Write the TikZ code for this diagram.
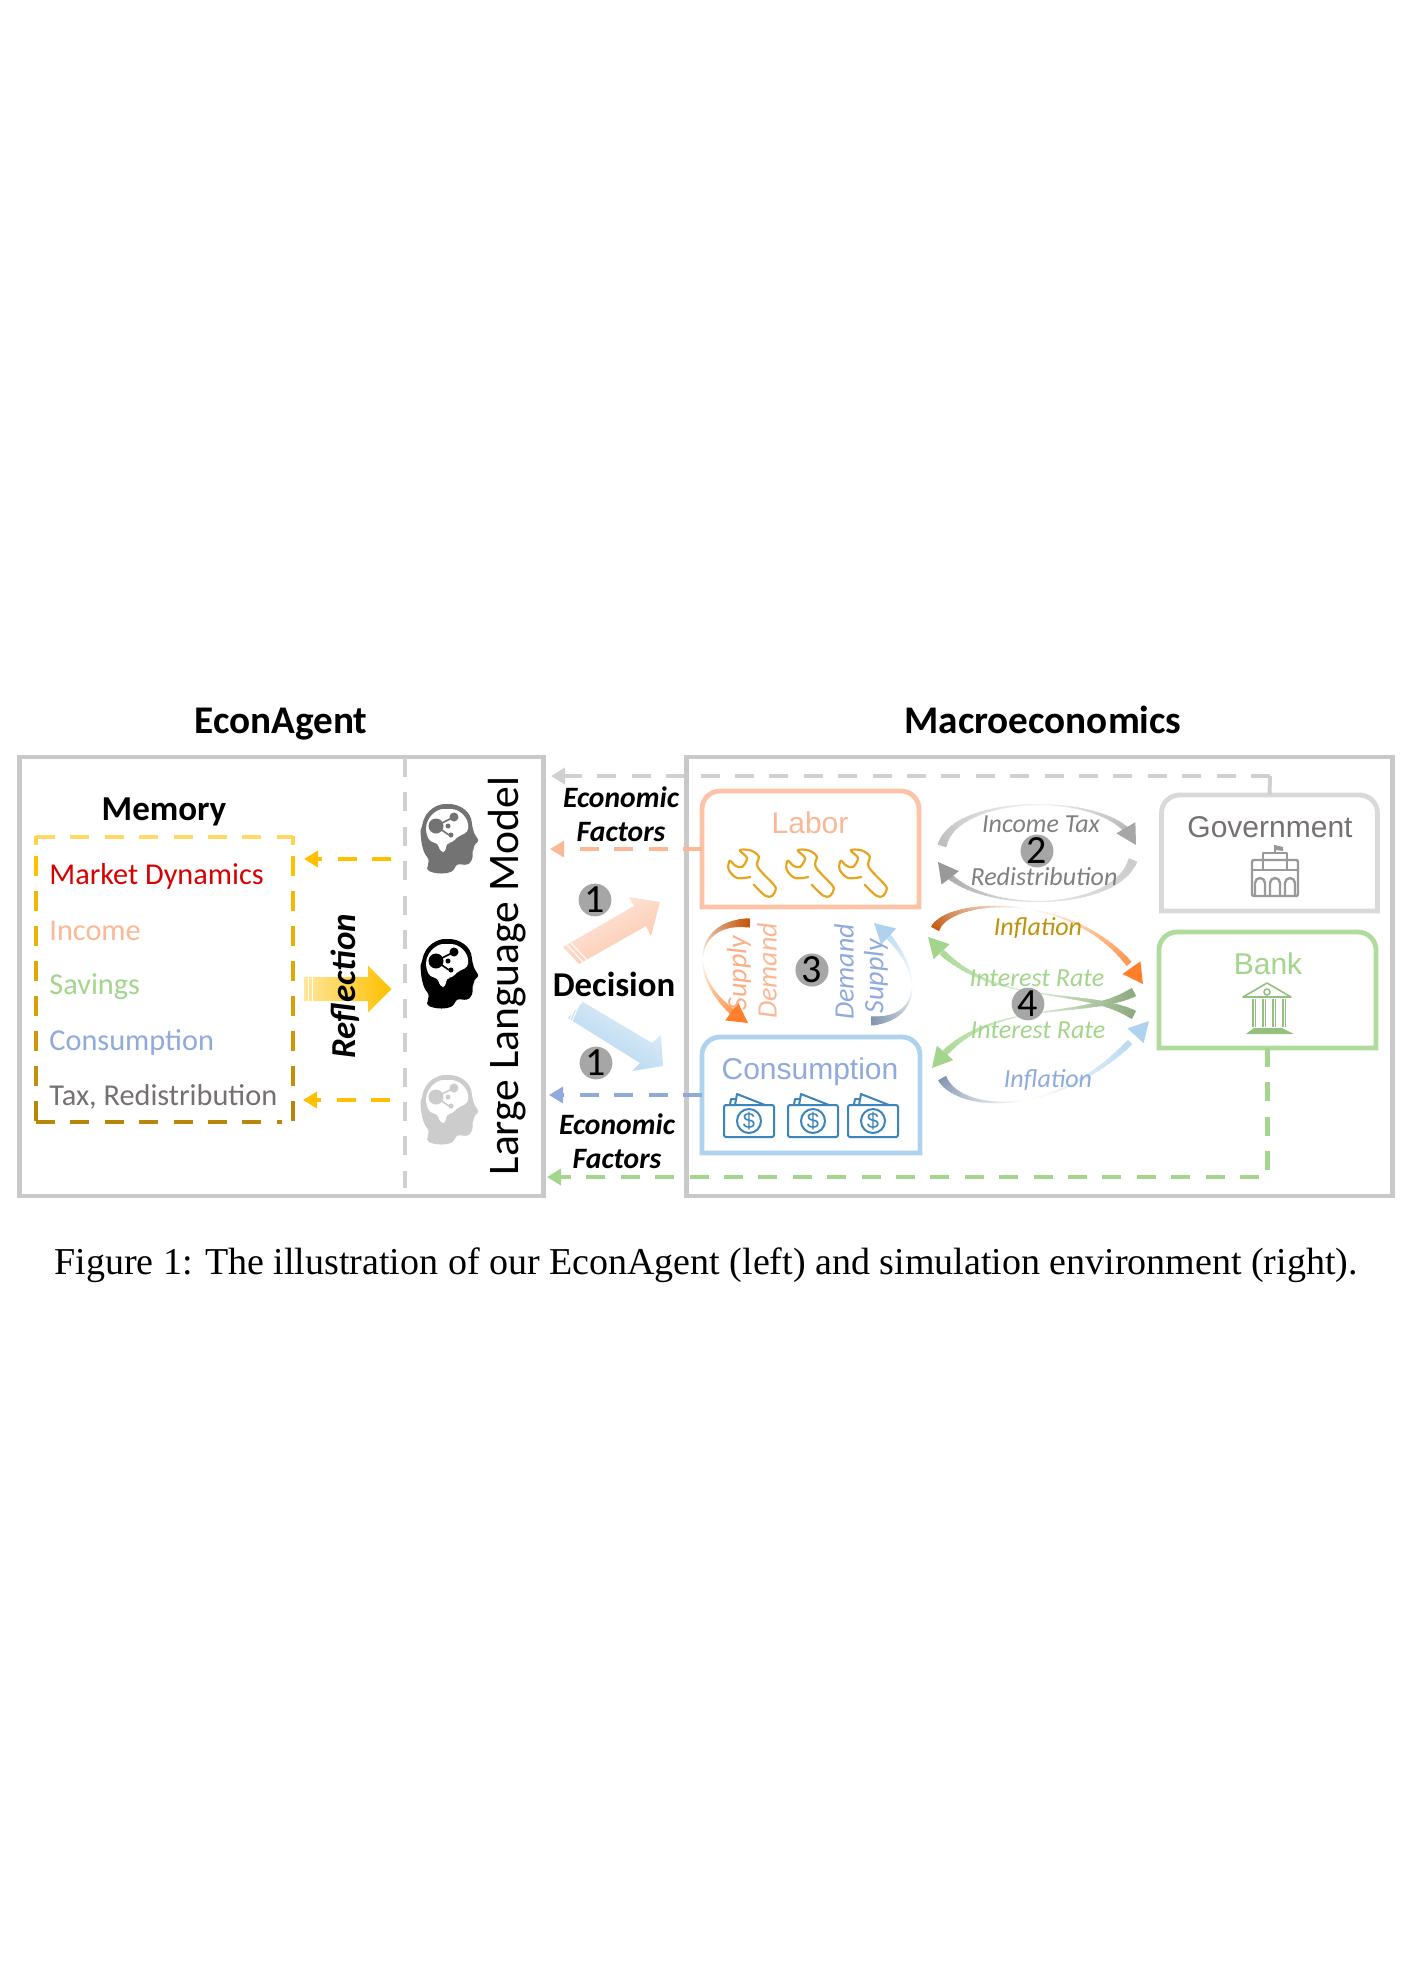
\documentclass[tikz,border=0pt]{standalone}
\usepackage{fontspec}
\usetikzlibrary{arrows.meta,calc}
\newfontfamily\carlito{Carlito}
\newfontfamily\lsans{Liberation Sans}
\newfontfamily\lserif{Liberation Serif}
\newcommand{\fs}[1]{\fontsize{#1}{#1}\selectfont}
\definecolor{framegray}{HTML}{C9C9C9}
\definecolor{dashgray}{HTML}{D0D0D0}
\definecolor{lorange}{HTML}{FBB896}
\definecolor{dorange}{HTML}{C55A11}
\definecolor{vorange}{HTML}{FF7F2A}
\definecolor{lblue}{HTML}{AFD3EE}
\definecolor{tblue}{HTML}{8FAADC}
\definecolor{dblue}{HTML}{8497B0}
\definecolor{lgreen}{HTML}{A3D58C}
\definecolor{dgreen}{HTML}{8FAA80}
\definecolor{ygold}{HTML}{FFC000}
\definecolor{dgold}{HTML}{B8860B}
\definecolor{txtgray}{HTML}{767171}
\definecolor{wrenchc}{HTML}{E6A520}
\definecolor{moneyc}{HTML}{3C85BB}
% gradient curve: points, start colour, middle colour, end colour, head (1) or not (0)
\newcommand{\gcurve}[5]{\colorlet{gAc}{#2}\colorlet{gMc}{#3}\colorlet{gBc}{#4}\def\gH{#5}\gparse#1;}
\def\gparse#1,#2,#3,#4,#5,#6,#7,#8;{%
  \foreach \i in {0,...,47}{%
    \pgfmathsetmacro\ta{\i/48}%
    \pgfmathsetmacro\tb{min(1,(\i+1.3)/48)}%
    \pgfmathsetmacro\xa{(1-\ta)^3*#1+3*(1-\ta)^2*\ta*#3+3*(1-\ta)*\ta^2*#5+\ta^3*#7}%
    \pgfmathsetmacro\ya{(1-\ta)^3*#2+3*(1-\ta)^2*\ta*#4+3*(1-\ta)*\ta^2*#6+\ta^3*#8}%
    \pgfmathsetmacro\xb{(1-\tb)^3*#1+3*(1-\tb)^2*\tb*#3+3*(1-\tb)*\tb^2*#5+\tb^3*#7}%
    \pgfmathsetmacro\yb{(1-\tb)^3*#2+3*(1-\tb)^2*\tb*#4+3*(1-\tb)*\tb^2*#6+\tb^3*#8}%
    \pgfmathsetmacro\lw{0.5+4*abs(2*\ta-1)^1.8}%
    \ifnum\i<24
      \pgfmathtruncatemacro\p{100*\i/24}%
      \colorlet{gc}{gMc!\p!gAc}%
    \else
      \pgfmathtruncatemacro\p{100*(\i-24)/24}%
      \colorlet{gc}{gBc!\p!gMc}%
    \fi
    \pgfmathtruncatemacro\skipit{(\gH==1)&&(\i>43)}%
    \ifnum\skipit=0
      \draw[line width=\lw pt,color=gc] (\xa,\ya) -- (\xb,\yb);
    \fi
  }%
  \ifnum\gH=1
    \pgfmathsetmacro\ttv{0.91}%
    \pgfmathsetmacro\xc{(1-\ttv)^3*#1+3*(1-\ttv)^2*\ttv*#3+3*(1-\ttv)*\ttv^2*#5+\ttv^3*#7}%
    \pgfmathsetmacro\yc{(1-\ttv)^3*#2+3*(1-\ttv)^2*\ttv*#4+3*(1-\ttv)*\ttv^2*#6+\ttv^3*#8}%
    \pgfmathsetmacro\dl{veclen(#7-\xc,#8-\yc)}%
    \pgfmathsetmacro\ux{(#7-\xc)/\dl}%
    \pgfmathsetmacro\uy{(#8-\yc)/\dl}%
    \fill[gBc] (#7,#8) -- (#7-20*\ux-11*\uy,#8-20*\uy+11*\ux) -- (#7-20*\ux+11*\uy,#8-20*\uy-11*\ux) -- cycle;
  \fi
}
\newcommand{\headicon}[3]{% x, y, colour
  \begin{scope}[shift={(#1,#2)}]
    \fill[#3,rounded corners=1.2pt] (-22,33) -- (-20,22) .. controls (-28,14) and (-29,-6) .. (-27,-10) .. controls (-24,-28) and (-10,-33) .. (-2,-33) .. controls (10,-33) and (22,-26) .. (23,-12) -- (25,-4) -- (30,4) -- (25,8) -- (25,12) -- (23,14) -- (24,19) -- (22,25) -- (18,28) -- (8,27) -- (4,34) .. controls (-6,38) and (-16,36) .. (-22,33) -- cycle;
    \fill[white,rounded corners=2pt] (-23,-4) .. controls (-23,-20) and (-12,-28) .. (-2,-28) .. controls (10,-28) and (20,-20) .. (19,-5) -- (8,0) -- (3,6) -- (-3,6) -- (-3,15) -- (-9,15) -- (-11,6) -- (-19,5) -- cycle;
    \draw[#3,line width=0.8pt] (-13,-11) -- (5,-20) (-13,-11) -- (0,-2);
    \fill[#3] (-13,-11) circle (7.5) (5,-20) circle (4.5) (-1,-11) circle (2.5) (2,-2) circle (2.5);
  \end{scope}}
\newcommand{\wrenchicon}[2]{%
  \draw[wrenchc,line width=1.1pt,line cap=round,line join=round,shift={(#1,#2)}]
    plot[smooth,tension=0.55] coordinates {(1.7,11.7) (13.3,22.7) (20,23) (23.5,17) (22,12) (5.7,-6) (6.7,-16.7) (-1.7,-22.7) (-12.3,-22.7) (-5,-15) (-10,-6) (-16.7,-7.3) (-22.3,-12.3) (-23.3,-3.3) (-15,5) (-1.7,4)};}
\newcommand{\moneyicon}[2]{%
  \begin{scope}[shift={(#1,#2)},moneyc,line width=1pt,line join=round]
    \draw[rounded corners=1pt] (-25,-16) rectangle (25,16);
    \draw (-19,-16) -- (-18,-22) -- (-14,-22);
    \draw (-14,-16) -- (-12,-27) -- (16,-16);
    \draw (0,0) circle (12);
    \node[moneyc,inner sep=0pt,font=\lsans\fs{11}] at (0,0) {\$};
  \end{scope}}
\tikzset{
  framebox/.style={draw=framegray,line width=2.3pt},
  dashline/.style={line width=2.4pt,dash pattern=on 9.5pt off 7.7pt},
  tipped/.style={-{Triangle[length=7pt,width=8pt]}},
  inbox/.style={inner sep=0pt,outer sep=0pt},
  numcirc/.style={circle,fill=black!35,minimum size=16pt,inner sep=0pt,font=\carlito\fs{20}},
  sidelab/.style={inner sep=0pt,anchor=west,font=\carlito\fs{15.15}},
  boldlab/.style={inner sep=0pt,font=\carlito\bfseries\fs{19.6}},
  factor/.style={inner sep=0pt,font=\carlito\bfseries\itshape\fs{14.8}},
  flow/.style={inner sep=0pt,font=\carlito\itshape\fs{13}},
  flowv/.style={inner sep=0pt,font=\carlito\itshape\fs{14},rotate=90},
  boxtitle/.style={inner sep=0pt,font=\lsans\fs{15}},
}
\newcommand{\topround}[2]{%
  \draw[#2,line width=2.4pt] (#1.south west) -- (#1.south east) [rounded corners=9pt] -- (#1.north east) -- (#1.north west) [sharp corners] -- cycle;}
\begin{document}
\begin{tikzpicture}[x=0.5pt,y=-0.5pt]
\useasboundingbox (0,0) rectangle (1413,1983);
\fill[white] (0,0) rectangle (1413,1983);
% frames
\node[framebox,inbox,minimum width=262pt,minimum height=219.5pt] (agent) at (281.5,976.5) {};
\node[framebox,inbox,minimum width=353pt,minimum height=219.5pt] (macro) at (1039.5,976.5) {};
\node[boldlab] (agenttitle) at (281,724) {EconAgent};
\node[boldlab] (macrotitle) at (1043,720) {Macroeconomics};
% split line
\coordinate (splitT) at (405,758);
\coordinate (splitB) at (405,1188);
\draw[dashgray,dashline] (splitT) -- (splitB);
% memory
\node[inbox,font=\carlito\bfseries\fs{17.5}] (memory) at (164,812) {Memory};
\draw[line width=2.2pt,color=ygold!60!white,dash pattern=on 9.5pt off 7.7pt] (36,837) -- (293,837);
\foreach \yy in {866,901,936,971,1006,1041,1076,1111}{%
  \pgfmathtruncatemacro\mx{(\yy-866)/2.45}%
  \colorlet{mc}{dgold!\mx!ygold}%
  \draw[mc,line width=2.2pt] (36,\yy-10) -- (36,\yy+10);
  \draw[mc,line width=2.2pt] (293,\yy-10) -- (293,\yy+10);
}
\draw[ygold!70!white,line width=2.2pt] (36,836) -- (36,845);
\draw[ygold!70!white,line width=2.2pt] (293,836) -- (293,845);
\draw[dgold,line width=2.2pt,dash pattern=on 9.5pt off 7.7pt] (36,1122) -- (282,1122);
\node[sidelab,text=red!85!black] (mem1) at (49,876) {Market Dynamics};
\node[sidelab,text=lorange] (mem2) at (49,931) {Income};
\node[sidelab,text=lgreen] (mem3) at (49,987) {Savings};
\node[sidelab,text=tblue] (mem4) at (49,1042) {Consumption};
\node[sidelab,text=txtgray] (mem5) at (49,1097) {Tax, Redistribution};
\coordinate (llmT) at (391,859);
\coordinate (memT) at (304,859);
\coordinate (llmB) at (390,1100);
\coordinate (memB) at (303,1100);
\draw[ygold,dashline,tipped] (llmT) -- (memT);
\draw[ygold,dashline,tipped] (llmB) -- (memB);
% reflection
\shade[left color=ygold!40!white,right color=ygold] (304,977) -- (368,977) -- (368,965.5) -- (391.5,989) -- (368,1012.5) -- (368,1001) -- (304,1001) -- cycle;
\draw[white,line width=0.5pt] (308,977) -- (308,1001) (312,977) -- (312,1001);
\node[factor,rotate=90,font=\carlito\bfseries\itshape\fs{17.5}] (reflect) at (345,986) {Reflection};
% heads
\headicon{449}{837}{black!55}
\headicon{449}{972}{black}
\headicon{449}{1108}{black!20}
\node[inbox,rotate=90,font=\carlito\fs{21.8}] (llm) at (507,976) {Large Language Model};
% right boxes
\node[inbox,minimum width=108.5pt,minimum height=58pt] (labor) at (810.5,849) {};
\node[inbox,minimum width=109pt,minimum height=58pt] (cons) at (811,1095) {};
\node[inbox,minimum width=108pt,minimum height=58pt] (gov) at (1269.5,853) {};
\node[inbox,minimum width=108.5pt,minimum height=58pt] (bank) at (1267.5,990) {};
\topround{labor}{lorange!85!white}
\topround{cons}{lblue}
\topround{gov}{black!15}
\topround{bank}{lgreen!85!white}
\node[boxtitle,text=lorange] (labort) at (810,823) {Labor};
\node[boxtitle,text=tblue] (const) at (810,1072) {Consumption};
\node[boxtitle,text=txtgray] (govt) at (1270,827) {Government};
\node[boxtitle,text=lgreen] (bankt) at (1268,964) {Bank};
% connectors
\coordinate (govL) at (1270,776);
\coordinate (agentG) at (551,776);
\coordinate (agentL) at (550,849);
\coordinate (agentC) at (549,1095);
\coordinate (agentK) at (547,1177);
\draw[dashgray,line width=2pt] (gov.north) -- (govL);
\draw[dashgray,dashline,tipped] (govL) -- (agentG);
\draw[lorange,dashline,tipped] (labor.west) -- (agentL);
\draw[tblue,dashline,tipped] (cons.west) -- (agentC);
\draw[lgreen,dashline,tipped] (bank.south) |- (agentK);
% side labels
\node[factor] (ef1a) at (621,797) {Economic};
\node[factor] (ef1b) at (621,832) {Factors};
\node[factor] (ef2a) at (617,1124) {Economic};
\node[factor] (ef2b) at (617,1159) {Factors};
\node[inbox,font=\carlito\bfseries\fs{17.4}] (decision) at (614,984) {Decision};
% decision arrows
\shade[left color=lorange!30!white,right color=lorange!80!white,shading angle=30] (563,947) -- (634,906) -- (629,897) -- (660,902) -- (651,936) -- (646,926) -- (579,964) -- cycle;
\draw[white,line width=0.5pt] (567,945) -- (583,962) (571,943) -- (587,960);
\shade[left color=lblue!35!white,right color=lblue,shading angle=-30] (583,1002) -- (652,1043) -- (661,1035) -- (663,1066) -- (632,1071) -- (640,1063) -- (568,1018) -- cycle;
\draw[white,line width=0.5pt] (579,1005) -- (572,1021) (575,1008) -- (568,1024);
% curves group 2
\gcurve{942,846,955,791,1120,791,1136,845}{black!25}{black!5}{black!35}{1}
\gcurve{1133,860,1115,915,965,915,938,862}{black!20}{black!10}{black!40}{1}
% curves group 4
\gcurve{935,929,950,895,1090,890,1143,984}{dorange}{white}{vorange}{1}
\gcurve{1134,1015,1080,985,985,1010,928,937}{dgreen}{lgreen!40!white}{lgreen}{1}
\gcurve{1134,992,1080,1022,985,995,932,1068}{dgreen}{lgreen!40!white}{lgreen}{1}
\gcurve{942,1078,960,1115,1070,1120,1149,1021}{dblue}{white}{lblue}{1}
% curves group 3
\gcurve{750,923,690,920,685,985,748,1023}{dorange}{white}{vorange}{1}
\gcurve{871,1021,925,1020,925,965,874,923}{dblue}{white}{lblue}{1}
% flow labels
\node[flow,text=black!50] (f1) at (1041,824) {Income Tax};
\node[flow,text=black!50] (f2) at (1044,877) {Redistribution};
\node[flow,text=dgold!90!yellow] (f3) at (1038,928) {Inflation};
\node[flow,text=lgreen] (f4) at (1037,978) {Interest Rate};
\node[flow,text=lgreen] (f5) at (1038,1030) {Interest Rate};
\node[flow,text=tblue] (f6) at (1048,1080) {Inflation};
\node[flowv,text=lorange!85!vorange] (f7) at (739,973) {Supply};
\node[flowv,text=lorange] (f8) at (767,971) {Demand};
\node[flowv,text=tblue] (f9) at (844,972) {Demand};
\node[flowv,text=tblue] (f10) at (876,976) {Supply};
% number badges
\node[numcirc] (n1a) at (595,900) {1};
\node[numcirc] (n1b) at (596,1063) {1};
\node[numcirc] (n2) at (1037,851) {2};
\node[numcirc] (n3) at (812,970) {3};
\node[numcirc] (n4) at (1028,1004) {4};
% icons
\wrenchicon{752}{873}
\wrenchicon{810}{873}
\wrenchicon{863}{873}
\moneyicon{749}{1121}
\moneyicon{813}{1121}
\moneyicon{873}{1121}
% government icon
\begin{scope}[shift={(1275,878)},black!40,line width=1.2pt,line join=round]
  \draw[rounded corners=1pt] (-23,-18) rectangle (23,18);
  \draw (-23,-8) -- (23,-8);
  \draw (-12,-8) -- (-12,-25) -- (12,-25) -- (12,-8);
  \draw (0,-25) -- (0,-33);
  \fill (0,-33) -- (8,-31) -- (8,-27) -- (0,-28) -- cycle;
  \foreach \ax in {-15,0,15}{\draw (\ax-5,17) -- (\ax-5,5) arc[start angle=180,end angle=360,radius=5] -- (\ax+5,17);}
\end{scope}
% bank icon
\begin{scope}[shift={(1268,1007)},lgreen!90!black,line width=0.8pt,line join=round]
  \draw (-25,-10) -- (-1,-24) -- (23,-10) -- cycle;
  \draw (-1,-15) circle (3);
  \foreach \cx in {-14,-4,6,16}{\draw (\cx-1,-8) -- (\cx-1,20) (\cx+1.5,-8) -- (\cx+1.5,20);}
  \fill (-22,27) -- (-14,21) -- (14,21) -- (26,27) -- cycle;
\end{scope}
% caption
\node[inner sep=0pt,font=\lserif\fs{19}] (caption) at (706,1265) {Figure 1: The illustration of our EconAgent (left) and simulation environment (right).};
\end{tikzpicture}
\end{document}
